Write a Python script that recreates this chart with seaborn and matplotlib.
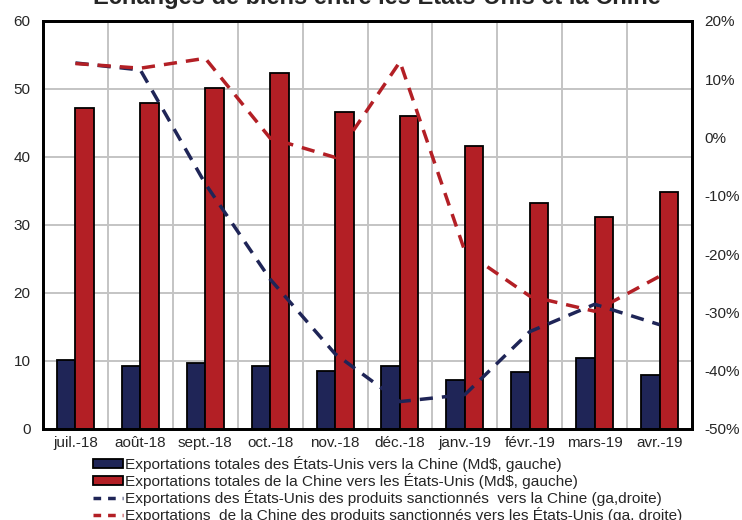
import numpy as np
import pandas as pd
import matplotlib
matplotlib.use("Agg")
import matplotlib.pyplot as plt
import seaborn as sns
from matplotlib.patches import Patch
from matplotlib.lines import Line2D
from matplotlib.ticker import FuncFormatter

# ---------------- data ----------------
months = ["juil.-18", "août-18", "sept.-18", "oct.-18", "nov.-18", "déc.-18",
          "janv.-19", "févr.-19", "mars-19", "avr.-19"]
us_to_china = [10.1, 9.3, 9.75, 9.2, 8.6, 9.2, 7.2, 8.4, 10.4, 7.9]
china_to_us = [47.2, 48.0, 50.1, 52.3, 46.6, 46.0, 41.6, 33.3, 31.2, 34.9]
us_sanctioned = [12.8, 11.6, -7.9, -24.3, -37.1, -45.3, -44.1, -33.3, -28.6, -32.1]
china_sanctioned = [12.7, 11.9, 13.6, -0.1, -3.4, 13.0, -19.5, -27.2, -29.8, -23.8]

series_names = [
    "Exportations totales des États-Unis vers la Chine (Md$, gauche)",
    "Exportations totales de la Chine vers les États-Unis (Md$, gauche)",
    "Exportations des États-Unis des produits sanctionnés  vers la Chine (ga,droite)",
    "Exportations  de la Chine des produits sanctionnés vers les États-Unis (ga, droite)",
]
title = "Échanges de biens entre les États-Unis et la Chine"

NAVY = "#1F2557"
RED = "#B31F25"

df = pd.DataFrame({
    "mois": months * 2,
    "serie": [series_names[0]] * len(months) + [series_names[1]] * len(months),
    "valeur": us_to_china + china_to_us,
})

# ---------------- figure ----------------
sns.set_style("white")
plt.rcParams["font.family"] = ["Liberation Sans", "DejaVu Sans"]

fig = plt.figure(figsize=(7.42, 5.20), dpi=100)
ax = fig.add_axes([43 / 742, 1 - 429 / 520, (692 - 43) / 742, (429 - 21) / 520])

sns.barplot(data=df, x="mois", y="valeur", hue="serie", order=months,
            hue_order=series_names[:2], palette=[NAVY, RED], width=0.57,
            gap=0, edgecolor="black", linewidth=1.3, saturation=1,
            legend=False, ax=ax, zorder=2)

ax.set_ylim(0, 60)
ax.set_yticks(range(0, 61, 10))
ax.set_xlim(-0.5, len(months) - 0.5)
ax.set_xlabel("")
ax.set_ylabel("")
ax.set_axisbelow(True)
ax.yaxis.grid(True, color="#c4c4c4", lw=1.4)
ax.set_xticks(np.arange(-0.5, len(months), 1), minor=True)
ax.xaxis.grid(True, which="minor", color="#c4c4c4", lw=1.4)
ax.xaxis.grid(False, which="major")
ax.tick_params(axis="both", which="both", length=0)
ax.tick_params(axis="y", pad=9, labelsize=11)
ax.tick_params(axis="x", pad=5, labelsize=11)

ax2 = ax.twinx()
x = np.arange(len(months))
pct_us = np.array(us_sanctioned) / 100
pct_cn = np.array(china_sanctioned) / 100
sns.lineplot(x=x, y=pct_us, ax=ax2, color=NAVY, lw=2.5, zorder=3,
             dashes=False, linestyle=(0, (3.8, 2.6)))
sns.lineplot(x=x, y=pct_cn, ax=ax2, color=RED, lw=2.5, zorder=4,
             dashes=False, linestyle=(0, (3.8, 2.6)))
ax2.set_ylim(-0.5, 0.2)
ax2.set_yticks(np.arange(-0.5, 0.21, 0.1))
ax2.yaxis.set_major_formatter(FuncFormatter(lambda v, p: f"{round(v * 100):d}%"))
ax2.tick_params(axis="y", length=0, pad=9, labelsize=11)
ax2.set_xlim(-0.5, len(months) - 0.5)
ax2.grid(False)
ax2.set_ylabel("")

for a in (ax, ax2):
    for s in a.spines.values():
        s.set_color("black")
        s.set_linewidth(2)

# title (partly clipped at the top, as in the reference)
fig.text(377 / 742, 1 - 4 / 520, title, ha="center", va="baseline",
         fontsize=17, fontweight="heavy", family=["Liberation Sans", "DejaVu Sans"])

handles = [
    Patch(facecolor=NAVY, edgecolor="black", linewidth=1.3),
    Patch(facecolor=RED, edgecolor="black", linewidth=1.3),
    Line2D([0], [0], color=NAVY, lw=2.5, linestyle=(0, (2.2, 2.0))),
    Line2D([0], [0], color=RED, lw=2.5, linestyle=(0, (2.2, 2.0))),
]
fig.legend(handles, series_names, loc="upper left",
           bbox_to_anchor=(93 / 742, 1 - 456 / 520), frameon=False,
           fontsize=11.1, handlelength=1.95, handleheight=0.55,
           handletextpad=0.12, labelspacing=0.06, borderpad=0,
           borderaxespad=0)

fig.savefig("out.png", dpi=100, facecolor="white")
